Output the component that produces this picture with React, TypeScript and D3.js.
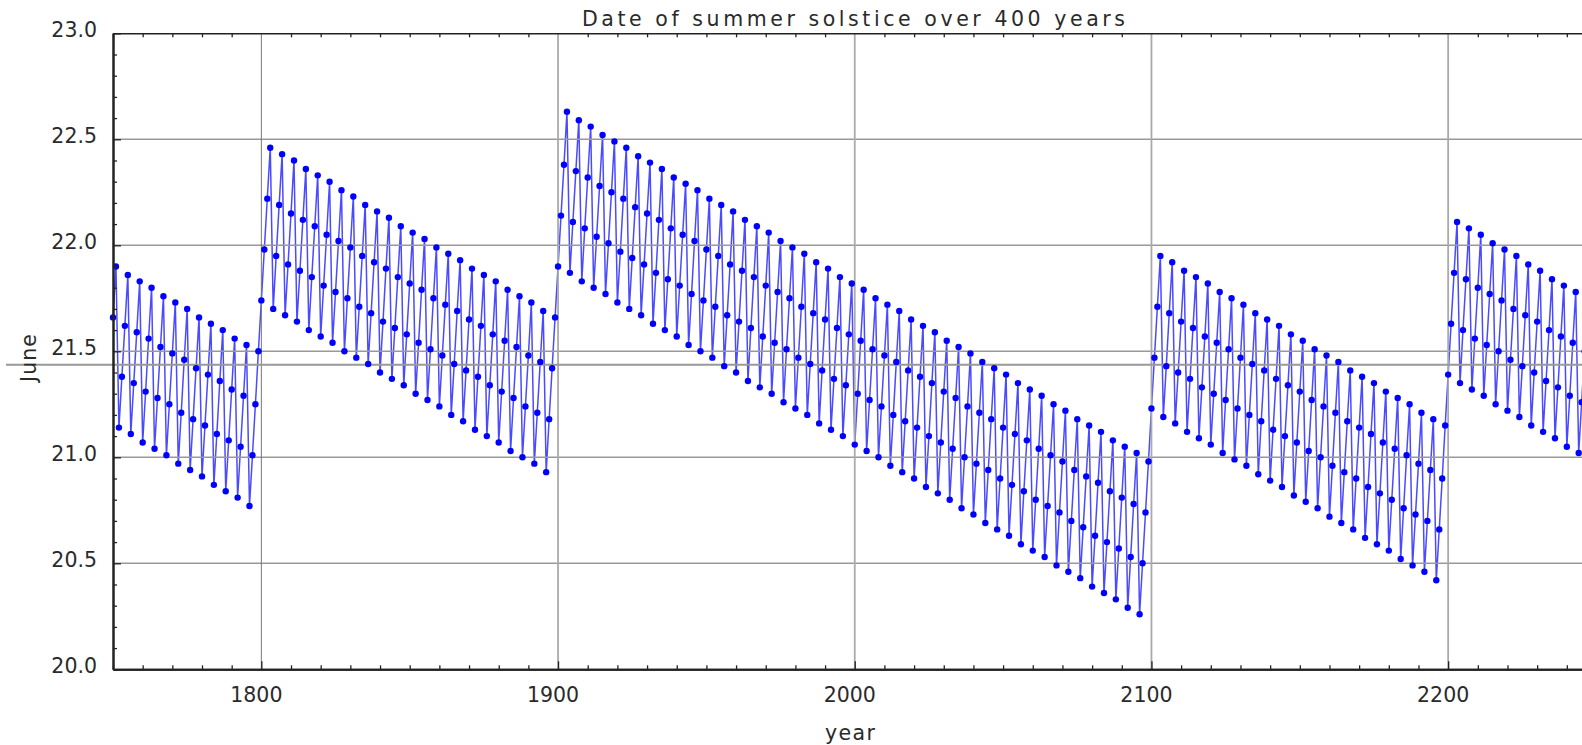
import React, { useEffect, useRef } from "react";
import * as d3 from "d3";

// June solstice day-of-month, one value per year
const seg1750 = [
  21.66, 21.90,
  21.14, 21.38, 21.62, 21.86,
  21.11, 21.35, 21.59, 21.83,
  21.07, 21.31, 21.56, 21.80,
  21.04, 21.28, 21.52, 21.76,
  21.01, 21.25, 21.49, 21.73,
  20.97, 21.21, 21.46, 21.70,
  20.94, 21.18, 21.42, 21.66,
  20.91, 21.15, 21.39, 21.63,
  20.87, 21.11, 21.36, 21.60,
  20.84, 21.08, 21.32, 21.56,
  20.81, 21.05, 21.29, 21.53,
  20.77, 21.01, 21.25, 21.50,
];

const seg1800 = [
  21.74, 21.98, 22.22, 22.46,
  21.70, 21.95, 22.19, 22.43,
  21.67, 21.91, 22.15, 22.40,
  21.64, 21.88, 22.12, 22.36,
  21.60, 21.85, 22.09, 22.33,
  21.57, 21.81, 22.05, 22.30,
  21.54, 21.78, 22.02, 22.26,
  21.50, 21.75, 21.99, 22.23,
  21.47, 21.71, 21.95, 22.19,
  21.44, 21.68, 21.92, 22.16,
  21.40, 21.64, 21.89, 22.13,
  21.37, 21.61, 21.85, 22.09,
  21.34, 21.58, 21.82, 22.06,
  21.30, 21.54, 21.79, 22.03,
  21.27, 21.51, 21.75, 21.99,
  21.24, 21.48, 21.72, 21.96,
  21.20, 21.44, 21.69, 21.93,
  21.17, 21.41, 21.65, 21.89,
  21.13, 21.38, 21.62, 21.86,
  21.10, 21.34, 21.58, 21.83,
  21.07, 21.31, 21.55, 21.79,
  21.03, 21.28, 21.52, 21.76,
  21.00, 21.24, 21.48, 21.73,
  20.97, 21.21, 21.45, 21.69,
  20.93, 21.18, 21.42, 21.66,
];

const seg1900 = [
  21.90, 22.14, 22.38, 22.63,
  21.87, 22.11, 22.35, 22.59,
  21.83, 22.08, 22.32, 22.56,
  21.80, 22.04, 22.28, 22.52,
  21.77, 22.01, 22.25, 22.49,
  21.73, 21.97, 22.22, 22.46,
  21.70, 21.94, 22.18, 22.42,
  21.67, 21.91, 22.15, 22.39,
  21.63, 21.87, 22.12, 22.36,
  21.60, 21.84, 22.08, 22.32,
  21.57, 21.81, 22.05, 22.29,
  21.53, 21.77, 22.02, 22.26,
  21.50, 21.74, 21.98, 22.22,
  21.47, 21.71, 21.95, 22.19,
  21.43, 21.67, 21.91, 22.16,
  21.40, 21.64, 21.88, 22.12,
  21.36, 21.61, 21.85, 22.09,
  21.33, 21.57, 21.81, 22.06,
  21.30, 21.54, 21.78, 22.02,
  21.26, 21.51, 21.75, 21.99,
  21.23, 21.47, 21.71, 21.96,
  21.20, 21.44, 21.68, 21.92,
  21.16, 21.41, 21.65, 21.89,
  21.13, 21.37, 21.61, 21.85,
  21.10, 21.34, 21.58, 21.82,
  21.06, 21.30, 21.55, 21.79,
  21.03, 21.27, 21.51, 21.75,
  21.00, 21.24, 21.48, 21.72,
  20.96, 21.20, 21.45, 21.69,
  20.93, 21.17, 21.41, 21.65,
  20.90, 21.14, 21.38, 21.62,
  20.86, 21.10, 21.35, 21.59,
  20.83, 21.07, 21.31, 21.55,
  20.80, 21.04, 21.28, 21.52,
  20.76, 21.00, 21.24, 21.49,
  20.73, 20.97, 21.21, 21.45,
  20.69, 20.94, 21.18, 21.42,
  20.66, 20.90, 21.14, 21.39,
  20.63, 20.87, 21.11, 21.35,
  20.59, 20.84, 21.08, 21.32,
  20.56, 20.80, 21.04, 21.29,
  20.53, 20.77, 21.01, 21.25,
  20.49, 20.74, 20.98, 21.22,
  20.46, 20.70, 20.94, 21.18,
  20.43, 20.67, 20.91, 21.15,
  20.39, 20.63, 20.88, 21.12,
  20.36, 20.60, 20.84, 21.08,
  20.33, 20.57, 20.81, 21.05,
  20.29, 20.53, 20.78, 21.02,
  20.26, 20.50, 20.74, 20.98,
];

const seg2100 = [
  21.23, 21.47, 21.71, 21.95,
  21.19, 21.43, 21.68, 21.92,
  21.16, 21.40, 21.64, 21.88,
  21.12, 21.37, 21.61, 21.85,
  21.09, 21.33, 21.57, 21.82,
  21.06, 21.30, 21.54, 21.78,
  21.02, 21.27, 21.51, 21.75,
  20.99, 21.23, 21.47, 21.72,
  20.96, 21.20, 21.44, 21.68,
  20.92, 21.17, 21.41, 21.65,
  20.89, 21.13, 21.37, 21.62,
  20.86, 21.10, 21.34, 21.58,
  20.82, 21.07, 21.31, 21.55,
  20.79, 21.03, 21.27, 21.51,
  20.76, 21.00, 21.24, 21.48,
  20.72, 20.96, 21.21, 21.45,
  20.69, 20.93, 21.17, 21.41,
  20.66, 20.90, 21.14, 21.38,
  20.62, 20.86, 21.11, 21.35,
  20.59, 20.83, 21.07, 21.31,
  20.56, 20.80, 21.04, 21.28,
  20.52, 20.76, 21.01, 21.25,
  20.49, 20.73, 20.97, 21.21,
  20.46, 20.70, 20.94, 21.18,
  20.42, 20.66, 20.90, 21.15,
];

const seg2200 = [
  21.39, 21.63, 21.87, 22.11,
  21.35, 21.60, 21.84, 22.08,
  21.32, 21.56, 21.80, 22.05,
  21.29, 21.53, 21.77, 22.01,
  21.25, 21.50, 21.74, 21.98,
  21.22, 21.46, 21.70, 21.95,
  21.19, 21.43, 21.67, 21.91,
  21.15, 21.40, 21.64, 21.88,
  21.12, 21.36, 21.60, 21.84,
  21.09, 21.33, 21.57, 21.81,
  21.05, 21.29, 21.54, 21.78,
  21.02, 21.26, 21.50, 21.74,
];

const segments = [
  { start: 1750, values: seg1750 },
  { start: 1800, values: seg1800 },
  { start: 1900, values: seg1900 },
  { start: 2100, values: seg2100 },
  { start: 2200, values: seg2200 },
];

const yTicks = [20.0, 20.5, 21.0, 21.5, 22.0, 22.5, 23.0];
const xTicks = [1800, 1900, 2000, 2100, 2200];
const refLine = 21.436;

const title = "Date of summer solstice over 400 years";

function App() {
  const ref = useRef<SVGSVGElement>(null);

  useEffect(() => {
    drawChart();
  });

  const drawChart = () => {
    const W = 1582;
    const H = 745;
    const left = 113;
    const top = 33.3;
    const bottom = 669.3;
    const font = "'DejaVu Sans', sans-serif";

    const data: { year: number; day: number }[] = [];
    segments.forEach(s =>
      s.values.forEach((v, i) => data.push({ year: s.start + i, day: v }))
    );

    const svg = d3.select(ref.current);
    svg.selectAll("*").remove();

    const x = d3.scaleLinear().domain([1750, 2250]).range([left, left + 500 * 2.967]);
    const y = d3.scaleLinear().domain([20, 23]).range([bottom, top]);

    svg.append("rect").attr("width", W).attr("height", H).attr("fill", "#fff");

    // the data line
    const line = d3
      .line<{ year: number; day: number }>()
      .x(d => x(d.year))
      .y(d => y(d.day));

    svg
      .append("path")
      .datum(data)
      .attr("d", line)
      .attr("fill", "none")
      .attr("stroke", "#2a2aff")
      .attr("stroke-width", 1.5)
      .attr("stroke-opacity", 0.85);

    // grid
    const grid = svg.append("g").attr("stroke", "#999").attr("stroke-width", 1.4);
    yTicks
      .filter(v => v > 20 && v < 23)
      .forEach(v => {
        grid
          .append("line")
          .attr("x1", left)
          .attr("x2", W)
          .attr("y1", y(v))
          .attr("y2", y(v));
      });
    xTicks.forEach(v => {
      grid
        .append("line")
        .attr("x1", x(v))
        .attr("x2", x(v))
        .attr("y1", top)
        .attr("y2", bottom)
        .attr("stroke", v === 1800 ? "#777" : "#aaa")
        .attr("stroke-width", v === 1800 ? 1 : 1.8);
    });

    svg
      .append("line")
      .attr("x1", 6)
      .attr("x2", W)
      .attr("y1", y(refLine))
      .attr("y2", y(refLine))
      .attr("stroke", "#999")
      .attr("stroke-width", 2);

    // points
    svg
      .append("g")
      .selectAll("circle")
      .data(data)
      .join("circle")
      .attr("cx", d => x(d.year))
      .attr("cy", d => y(d.day))
      .attr("r", 3.2)
      .attr("fill", "#0000ff");

    // axes, ticks pointing inward
    const minorX = d3.range(1750, 2251, 10).filter(v => v % 100 !== 0);
    const minorY = d3.range(0, 31).map(i => 20 + i / 10).filter(v => Math.round(v * 10) % 5 !== 0);

    const styleAxis = (g: any, width: number) => {
      g.select(".domain").attr("stroke", "#222").attr("stroke-width", width);
      g.selectAll(".tick line").attr("stroke", "#222").attr("stroke-width", 1.3);
      g.selectAll(".tick text").remove();
    };

    svg
      .append("g")
      .attr("transform", "translate(0," + bottom + ")")
      .call(d3.axisBottom(x).tickValues(minorX).tickSizeInner(-4).tickSizeOuter(0))
      .call((g: any) => styleAxis(g, 2));
    svg
      .append("g")
      .attr("transform", "translate(0," + bottom + ")")
      .call(d3.axisBottom(x).tickValues(xTicks).tickSizeInner(-8).tickSizeOuter(0))
      .call((g: any) => styleAxis(g, 2));
    svg
      .append("g")
      .attr("transform", "translate(0," + top + ")")
      .call(d3.axisTop(x).tickValues(minorX).tickSizeInner(-4).tickSizeOuter(0))
      .call((g: any) => styleAxis(g, 1.6));
    svg
      .append("g")
      .attr("transform", "translate(" + left + ",0)")
      .call(d3.axisLeft(y).tickValues(minorY).tickSizeInner(-4).tickSizeOuter(0))
      .call((g: any) => styleAxis(g, 2));
    svg
      .append("g")
      .attr("transform", "translate(" + left + ",0)")
      .call(d3.axisLeft(y).tickValues(yTicks).tickSizeInner(-8).tickSizeOuter(0))
      .call((g: any) => styleAxis(g, 2));

    // tick labels
    const labels = svg.append("g").attr("font-family", font).attr("font-size", 20.5).attr("fill", "#2a2a2a");
    yTicks.forEach(v => {
      labels
        .append("text")
        .attr("x", 97)
        .attr("y", y(v) + 3.5)
        .attr("text-anchor", "end")
        .text(v.toFixed(1));
    });
    xTicks.forEach(v => {
      labels
        .append("text")
        .attr("x", x(v) - 5)
        .attr("y", 702)
        .attr("text-anchor", "middle")
        .text(String(v));
    });

    labels
      .append("text")
      .attr("x", 853.5)
      .attr("y", 26)
      .attr("text-anchor", "middle")
      .attr("textLength", 543)
      .attr("lengthAdjust", "spacing")
      .text(title);

    labels
      .append("text")
      .attr("x", 850)
      .attr("y", 740)
      .attr("text-anchor", "middle")
      .attr("textLength", 50)
      .attr("lengthAdjust", "spacing")
      .text("year");

    labels
      .append("text")
      .attr("transform", "translate(36,358) rotate(-90)")
      .attr("text-anchor", "middle")
      .attr("textLength", 48)
      .attr("lengthAdjust", "spacing")
      .text("June");
  };

  return (
    <svg
      ref={ref}
      width={1582}
      height={745}
      style={{ position: "absolute", left: 0, top: 0, display: "block" }}
    />
  );
}

export default App;
